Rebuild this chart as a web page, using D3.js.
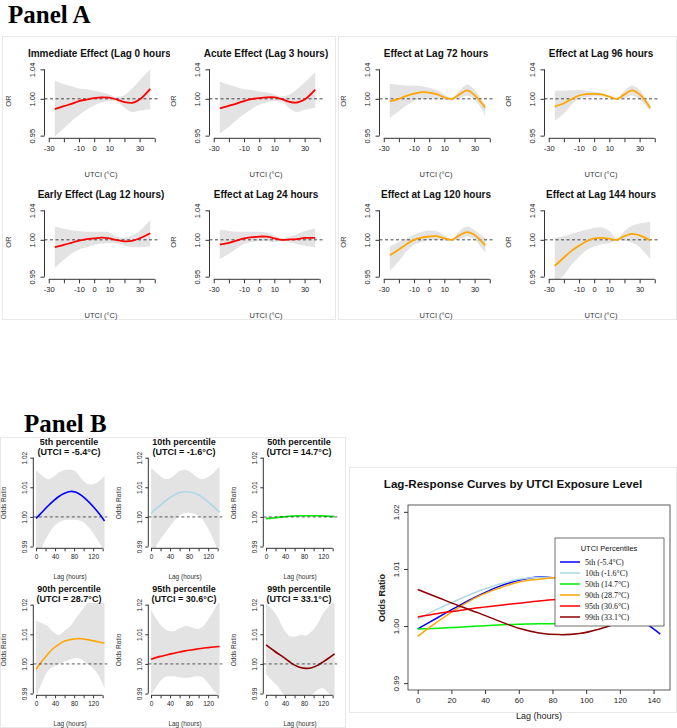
<!DOCTYPE html>
<html>
<head>
<meta charset="utf-8">
<script src="https://cdn.jsdelivr.net/npm/d3@7"></script>
<style>
body { margin: 0; background: #fff; }
svg { font-family: "Liberation Sans", Arial, sans-serif; }
</style>
</head>
<body>
<svg id="chart" width="677" height="728"></svg>
<script>
// ---- Panel A: exposure-response at fixed lags (UTCI on x) ----
var utci = [-26, -20, -15, -10, -5, 0, 5, 10, 15, 20, 25, 30, 37];
var aTitles = ["Immediate Effect (Lag 0 hours)", "Acute Effect (Lag 3 hours)",
               "Early Effect (Lag 12 hours)", "Effect at Lag 24 hours",
               "Effect at Lag 72 hours", "Effect at Lag 96 hours",
               "Effect at Lag 120 hours", "Effect at Lag 144 hours"];
var aFit = [
  [0.986, 0.990, 0.993, 0.997, 0.999, 1.001, 1.002, 1.0015, 0.999, 0.9955, 0.9945, 0.999, 1.0135],
  [0.987, 0.9905, 0.9935, 0.997, 0.9995, 1.001, 1.002, 1.002, 0.9995, 0.996, 0.995, 0.999, 1.0125],
  [0.990, 0.993, 0.996, 0.999, 1.001, 1.002, 1.003, 1.002, 0.9995, 0.998, 0.9985, 1.002, 1.009],
  [0.9935, 0.996, 0.999, 1.002, 1.0035, 1.0044, 1.0042, 1.002, 1.000, 1.0005, 1.001, 1.0025, 1.0027],
  [0.9965, 1.000, 1.004, 1.007, 1.009, 1.0085, 1.0065, 1.002, 1.000, 1.006, 1.0115, 1.005, 0.988],
  [0.9895, 0.994, 0.9995, 1.0045, 1.0065, 1.0068, 1.006, 1.003, 1.000, 1.006, 1.0115, 1.006, 0.9877],
  [0.979, 0.987, 0.994, 1.000, 1.003, 1.0045, 1.005, 1.002, 1.000, 1.006, 1.0105, 1.0065, 0.9925],
  [0.9645, 0.976, 0.985, 0.992, 0.998, 1.002, 1.0027, 1.0015, 1.000, 1.005, 1.008, 1.006, 0.999]
];
var aHigh = [
  [1.025, 1.020, 1.017, 1.014, 1.013, 1.011, 1.009, 1.006, 1.002, 1.005, 1.014, 1.025, 1.040],
  [1.023, 1.019, 1.016, 1.013, 1.012, 1.010, 1.009, 1.006, 1.003, 1.006, 1.013, 1.022, 1.036],
  [1.018, 1.015, 1.013, 1.012, 1.011, 1.011, 1.011, 1.010, 1.004, 1.003, 1.006, 1.012, 1.027],
  [1.0135, 1.012, 1.011, 1.011, 1.011, 1.011, 1.010, 1.006, 1.002, 1.004, 1.008, 1.012, 1.0155],
  [1.0205, 1.019, 1.018, 1.018, 1.017, 1.015, 1.012, 1.006, 1.001, 1.011, 1.0195, 1.012, 0.992],
  [1.011, 1.011, 1.0115, 1.012, 1.011, 1.010, 1.008, 1.004, 1.001, 1.011, 1.018, 1.012, 0.992],
  [0.991, 0.997, 1.002, 1.007, 1.0105, 1.0125, 1.0115, 1.0065, 1.001, 1.012, 1.018, 1.013, 1.002],
  [1.003, 1.005, 1.008, 1.011, 1.014, 1.016, 1.017, 1.012, 1.002, 1.012, 1.019, 1.022, 1.0245]
];
var aLow = [
  [0.949, 0.960, 0.970, 0.978, 0.985, 0.991, 0.995, 0.997, 0.9965, 0.988, 0.982, 0.984, 0.986],
  [0.953, 0.962, 0.971, 0.979, 0.986, 0.992, 0.995, 0.997, 0.996, 0.987, 0.982, 0.985, 0.988],
  [0.962, 0.973, 0.981, 0.987, 0.990, 0.993, 0.995, 0.9955, 0.995, 0.992, 0.990, 0.990, 0.991],
  [0.974, 0.981, 0.988, 0.9945, 0.997, 0.998, 0.998, 0.997, 0.998, 0.997, 0.994, 0.992, 0.990],
  [0.974, 0.983, 0.991, 0.997, 0.9995, 1.000, 1.000, 0.9985, 0.999, 1.001, 1.004, 0.999, 0.977],
  [0.970, 0.980, 0.992, 1.000, 1.002, 1.003, 1.003, 1.002, 0.999, 1.001, 1.0045, 0.999, 0.984],
  [0.958, 0.971, 0.984, 0.993, 0.997, 1.000, 1.000, 0.999, 0.999, 1.001, 1.0045, 1.000, 0.982],
  [0.940, 0.952, 0.966, 0.977, 0.986, 0.991, 0.994, 0.9955, 0.999, 0.999, 0.996, 0.990, 0.974]
];
var aYTicks = [0.95, 1.00, 1.04];
var aXTicks = [-30, -20, -10, 0, 10, 20, 30, 40];
var aXLabels = [-30, -10, 0, 10, 30];

// ---- Panel B: lag-response at UTCI percentiles ----
var bLags = [0, 12, 24, 36, 48, 60, 72, 84, 96, 108, 120, 132, 144];
var bTitles = ["5th percentile", "10th percentile", "50th percentile",
               "90th percentile", "95th percentile", "99th percentile"];
var bUtci = ["-5.4", "-1.6", "14.7", "28.7", "30.6", "33.1"];
var bLegend = ["5th (-5.4°C)", "10th (-1.6°C)", "50th (14.7°C)",
               "90th (28.7°C)", "95th (30.6°C)", "99th (33.1°C)"];
var bFit = [
  [0.9995, 1.0015, 1.0035, 1.0053, 1.0069, 1.008, 1.0086, 1.0083, 1.0072, 1.0055, 1.0035, 1.0012, 0.9986],
  [1.0012, 1.003, 1.0046, 1.0061, 1.0073, 1.0082, 1.0085, 1.0083, 1.0077, 1.0066, 1.0051, 1.0034, 1.0016],
  [0.9995, 0.9996, 0.9998, 1.0, 1.0002, 1.0003, 1.0004, 1.0004, 1.0004, 1.0004, 1.0003, 1.0002, 1.0001],
  [0.9982, 1.0008, 1.0032, 1.0052, 1.0066, 1.0077, 1.0082, 1.0085, 1.0085, 1.0082, 1.0078, 1.0074, 1.007],
  [1.0016, 1.0022, 1.0027, 1.0032, 1.0036, 1.004, 1.0044, 1.0047, 1.005, 1.0053, 1.0055, 1.0057, 1.0059],
  [1.0064, 1.005, 1.0036, 1.0023, 1.0009, 0.9996, 0.9988, 0.9985, 0.9987, 0.9995, 1.0007, 1.002, 1.0034]
];
var bHigh = [
  [1.0158, 1.014, 1.0128, 1.0135, 1.015, 1.0158, 1.016, 1.0152, 1.0128, 1.0112, 1.011, 1.012, 1.014],
  [1.0164, 1.0148, 1.0132, 1.0128, 1.014, 1.0155, 1.0158, 1.015, 1.0135, 1.0128, 1.0135, 1.015, 1.017],
  [1.0000, 0.9999, 1.0001, 1.0003, 1.0005, 1.0006, 1.0007, 1.0007, 1.0007, 1.0007, 1.0007, 1.0006, 1.0006],
  [1.0146, 1.0138, 1.0128, 1.0108, 1.0098, 1.0112, 1.0128, 1.0155, 1.018, 1.0205, 1.022, 1.0222, 1.021],
  [1.0182, 1.015, 1.0125, 1.0112, 1.011, 1.012, 1.0128, 1.0125, 1.0118, 1.0125, 1.015, 1.018, 1.0218],
  [1.0206, 1.0185, 1.016, 1.012, 1.0095, 1.0092, 1.0098, 1.0096, 1.011, 1.0135, 1.017, 1.0195, 1.021]
];
var bLow = [
  [0.9830, 0.9895, 0.9935, 0.9965, 0.9982, 0.9989, 0.999, 0.999, 0.9985, 0.997, 0.9945, 0.9915, 0.9880],
  [0.9860, 0.9905, 0.9935, 0.9960, 0.9985, 1.0005, 1.0013, 1.0013, 1.0008, 0.999, 0.996, 0.992, 0.9870],
  [0.9990, 0.9992, 0.9995, 0.9997, 0.9999, 1.0000, 1.0001, 1.0001, 1.0001, 1.0001, 1.0000, 0.9998, 0.9996],
  [0.9890, 0.9935, 0.9975, 0.999, 1.000, 1.0008, 1.0015, 1.0019, 1.0015, 1.0, 0.9985, 0.996, 0.9917],
  [0.9895, 0.9925, 0.995, 0.9958, 0.9958, 0.9955, 0.9953, 0.9955, 0.9958, 0.9955, 0.9935, 0.991, 0.9893],
  [0.9965, 0.9945, 0.9925, 0.990, 0.9885, 0.9878, 0.988, 0.9885, 0.9895, 0.9912, 0.9918, 0.990, 0.988]
];
var bYTicks = [0.99, 1.00, 1.01, 1.02];
var bXTicks = [0, 20, 40, 60, 80, 100, 120, 140];
var bXLabels = [0, 40, 80, 120];

var aColors = ["red", "red", "red", "red", "#ffa500", "#ffa500", "#ffa500", "#ffa500"];
var bColors = ["#0000ff", "#add8e6", "#00ee00", "#ffa500", "#ff0000", "#8b0000"];
var band = "#e3e3e3";

var svg = d3.select("#chart");

// faint frames round the pasted blocks
[[2.5, 36.5, 333, 283], [338.5, 36.5, 338, 283], [0.5, 437.5, 345, 290], [349.5, 467.5, 327, 245]]
  .forEach(function(r) {
    svg.append("rect").attr("x", r[0]).attr("y", r[1]).attr("width", r[2]).attr("height", r[3])
      .attr("fill", "none").attr("stroke", "#e8e8e8");
  });

svg.append("text").attr("x", 8).attr("y", 23).text("Panel A")
  .style("font-family", "'Liberation Serif', 'Times New Roman', serif")
  .style("font-weight", "bold").style("font-size", "25px");
svg.append("text").attr("x", 24).attr("y", 432).text("Panel B")
  .style("font-family", "'Liberation Serif', 'Times New Roman', serif")
  .style("font-weight", "bold").style("font-size", "25px");

// rotate the y tick labels R style (reading bottom to top)
function rTicksY(sel, off, size) {
  sel.selectAll("text")
    .attr("transform", "rotate(-90)")
    .attr("x", 0).attr("y", -off).attr("dy", 0)
    .attr("text-anchor", "middle")
    .style("font-size", size);
}

function styleAxis(sel) {
  sel.select(".domain").remove();
  sel.selectAll("line").attr("stroke", "#333");
  sel.selectAll("text").attr("fill", "#222");
}

var aColX = [0, 165, 335, 500];
var aRowY = [0, 141];
var aPos = [[0, 0], [1, 0], [0, 1], [1, 1], [2, 0], [3, 0], [2, 1], [3, 1]];

function drawA(k) {
  var ox = aColX[aPos[k][0]], oy = aRowY[aPos[k][1]];
  var x = d3.scaleLinear().domain([-32.8, 42.8]).range([ox + 44.5, ox + 159]);
  var y = d3.scaleLinear().domain([0.9464, 1.0436]).range([oy + 138.3, oy + 66.7]);
  var g = svg.append("g");
  var cid = "clipA" + k;
  svg.append("clipPath").attr("id", cid).append("rect")
    .attr("x", ox + 44.5).attr("y", oy + 66.7).attr("width", 114.5).attr("height", 71.6);
  var tid = "clipT" + k;
  svg.append("clipPath").attr("id", tid).append("rect")
    .attr("x", ox).attr("y", oy + 40).attr("width", 170).attr("height", 25);

  var area = d3.area().curve(d3.curveCatmullRom)
    .x(function(d, i) { return x(utci[i]); })
    .y0(function(d, i) { return y(aLow[k][i]); })
    .y1(function(d, i) { return y(aHigh[k][i]); });
  g.append("path").datum(aFit[k]).attr("d", area).attr("fill", band)
    .attr("clip-path", "url(#" + cid + ")");

  g.append("line").attr("x1", x.range()[0]).attr("x2", x.range()[1])
    .attr("y1", y(1)).attr("y2", y(1))
    .attr("stroke", "#333").attr("stroke-width", 0.9).attr("stroke-dasharray", "3,2.5");

  var line = d3.line().curve(d3.curveCatmullRom)
    .x(function(d, i) { return x(utci[i]); })
    .y(function(d) { return y(d); });
  g.append("path").datum(aFit[k]).attr("d", line).attr("fill", "none")
    .attr("stroke", aColors[k]).attr("stroke-width", 1.8);

  // axes
  var xa = g.append("g").attr("transform", "translate(0," + (oy + 138.3) + ")")
    .call(d3.axisBottom(x).tickValues(aXTicks).tickSize(4).tickPadding(3)
      .tickFormat(function(d) { return aXLabels.indexOf(d) >= 0 ? d : ""; }));
  styleAxis(xa);
  xa.selectAll("text").style("font-size", "7.5px");
  g.append("line").attr("x1", x(-30)).attr("x2", x(40)).attr("y1", oy + 138.3).attr("y2", oy + 138.3)
    .attr("stroke", "#333");

  var ya = g.append("g").attr("transform", "translate(" + (ox + 44.5) + ",0)")
    .call(d3.axisLeft(y).tickValues(aYTicks).tickSize(4).tickFormat(d3.format(".2f")));
  styleAxis(ya);
  rTicksY(ya, 9.5, "7.5px");
  g.append("line").attr("x1", ox + 44.5).attr("x2", ox + 44.5).attr("y1", y(1.04)).attr("y2", y(0.95))
    .attr("stroke", "#333");

  g.append("text").attr("x", ox + 101).attr("y", oy + 56.5).attr("text-anchor", "middle")
    .attr("clip-path", "url(#" + tid + ")")
    .style("font-weight", "bold").style("font-size", "10px").attr("fill", "#111").text(aTitles[k]);
  g.append("text").attr("transform", "translate(" + (ox + 11) + "," + (oy + 101) + ") rotate(-90)")
    .attr("text-anchor", "middle").style("font-size", "7.5px").attr("fill", "#333").text("OR");
  g.append("text").attr("x", ox + 101).attr("y", oy + 177).attr("text-anchor", "middle")
    .style("font-size", "7.5px").attr("fill", "#333").text("UTCI (°C)");
}

for (var k = 0; k < aFit.length; k++) drawA(k);

// ---- Panel B small multiples ----
var bColX = [0, 115, 230];
var bRowY = [0, 147];

function drawB(k) {
  var ox = bColX[k % 3], oy = bRowY[Math.floor(k / 3)];
  var x = d3.scaleLinear().domain([-5.76, 149.76]).range([ox + 33.3, ox + 107.3]);
  var y = d3.scaleLinear().domain([0.9894, 1.0206]).range([oy + 548.3, oy + 455.9]);
  var g = svg.append("g");
  var cid = "clipB" + k;
  svg.append("clipPath").attr("id", cid).append("rect")
    .attr("x", ox + 33.3).attr("y", oy + 455.9).attr("width", 74).attr("height", 92.4);

  var area = d3.area().curve(d3.curveCatmullRom)
    .x(function(d, i) { return x(bLags[i]); })
    .y0(function(d, i) { return y(bLow[k][i]); })
    .y1(function(d, i) { return y(bHigh[k][i]); });
  g.append("path").datum(bFit[k]).attr("d", area).attr("fill", band)
    .attr("clip-path", "url(#" + cid + ")");

  var line = d3.line().curve(d3.curveCatmullRom)
    .x(function(d, i) { return x(bLags[i]); })
    .y(function(d) { return y(d); });
  g.append("path").datum(bFit[k]).attr("d", line).attr("fill", "none")
    .attr("stroke", bColors[k]).attr("stroke-width", 1.6);

  g.append("line").attr("x1", x.range()[0]).attr("x2", x.range()[1])
    .attr("y1", y(1)).attr("y2", y(1))
    .attr("stroke", "#333").attr("stroke-width", 0.8).attr("stroke-dasharray", "3,2.5");

  var xa = g.append("g").attr("transform", "translate(0," + (oy + 548.3) + ")")
    .call(d3.axisBottom(x).tickValues(bXTicks).tickSize(3).tickPadding(3)
      .tickFormat(function(d) { return bXLabels.indexOf(d) >= 0 ? d : ""; }));
  styleAxis(xa);
  xa.selectAll("text").style("font-size", "6.5px");
  g.append("line").attr("x1", x(0)).attr("x2", x(140)).attr("y1", oy + 548.3).attr("y2", oy + 548.3)
    .attr("stroke", "#333");

  var ya = g.append("g").attr("transform", "translate(" + (ox + 33.3) + ",0)")
    .call(d3.axisLeft(y).tickValues(bYTicks).tickSize(3).tickFormat(d3.format(".2f")));
  styleAxis(ya);
  rTicksY(ya, 6.5, "6.5px");
  g.append("line").attr("x1", ox + 33.3).attr("x2", ox + 33.3).attr("y1", y(1.02)).attr("y2", y(0.99))
    .attr("stroke", "#333");

  g.append("text").attr("x", ox + 69).attr("y", oy + 444.5).attr("text-anchor", "middle")
    .style("font-weight", "bold").style("font-size", "9px").attr("fill", "#111").text(bTitles[k]);
  g.append("text").attr("x", ox + 69).attr("y", oy + 455).attr("text-anchor", "middle")
    .style("font-weight", "bold").style("font-size", "9px").attr("fill", "#111")
    .text("(UTCI = " + bUtci[k] + "°C)");
  g.append("text").attr("transform", "translate(" + (ox + 6) + "," + (oy + 503) + ") rotate(-90)")
    .attr("text-anchor", "middle").style("font-size", "6.5px").attr("fill", "#333").text("Odds Ratio");
  g.append("text").attr("x", ox + 70).attr("y", oy + 578.5).attr("text-anchor", "middle")
    .style("font-size", "6.5px").attr("fill", "#333").text("Lag (hours)");
}

for (var j = 0; j < bFit.length; j++) drawB(j);

// ---- Panel B combined lag-response chart ----
(function() {
  var x = d3.scaleLinear().domain([-5.76, 149.76]).range([408, 670]);
  var y = d3.scaleLinear().domain([0.9888, 1.0212]).range([690, 505]);
  var g = svg.append("g");

  g.append("text").attr("x", 513).attr("y", 488).attr("text-anchor", "middle")
    .style("font-weight", "bold").style("font-size", "11.6px").attr("fill", "#111")
    .text("Lag-Response Curves by UTCI Exposure Level");

  var line = d3.line().curve(d3.curveCatmullRom)
    .x(function(d, i) { return x(bLags[i]); })
    .y(function(d) { return y(d); });
  bFit.forEach(function(s, i) {
    g.append("path").datum(s).attr("d", line).attr("fill", "none")
      .attr("stroke", bColors[i]).attr("stroke-width", 1.5);
  });

  g.append("rect").attr("x", 408).attr("y", 505).attr("width", 262).attr("height", 185)
    .attr("fill", "none").attr("stroke", "#333").attr("stroke-width", 0.8);

  var xa = g.append("g").attr("transform", "translate(0,690)")
    .call(d3.axisBottom(x).tickValues(bXTicks).tickSize(4).tickPadding(3));
  styleAxis(xa);
  xa.selectAll("text").style("font-size", "8px");
  var ya = g.append("g").attr("transform", "translate(408,0)")
    .call(d3.axisLeft(y).tickValues(bYTicks).tickSize(4).tickFormat(d3.format(".2f")));
  styleAxis(ya);
  rTicksY(ya, 9.5, "8px");

  g.append("text").attr("transform", "translate(385,598) rotate(-90)").attr("text-anchor", "middle")
    .style("font-size", "9px").style("font-weight", "bold").attr("fill", "#222").text("Odds Ratio");
  g.append("text").attr("x", 539).attr("y", 719).attr("text-anchor", "middle")
    .style("font-size", "9px").attr("fill", "#222").text("Lag (hours)");

  // legend
  var lg = g.append("g");
  lg.append("rect").attr("x", 555).attr("y", 538).attr("width", 109).attr("height", 88)
    .attr("fill", "#fff").attr("stroke", "#333").attr("stroke-width", 0.7);
  lg.append("text").attr("x", 609).attr("y", 551).attr("text-anchor", "middle")
    .style("font-size", "7.5px").attr("fill", "#111").text("UTCI Percentiles");
  bLegend.forEach(function(t, i) {
    var yy = 562 + i * 11;
    lg.append("line").attr("x1", 560).attr("x2", 580).attr("y1", yy).attr("y2", yy)
      .attr("stroke", bColors[i]).attr("stroke-width", 1.5);
    lg.append("text").attr("x", 585).attr("y", yy + 2.5)
      .style("font-family", "'Liberation Serif', 'Times New Roman', serif")
      .style("font-size", "8px").attr("fill", "#111").text(t);
  });
})();
</script>
</body>
</html>
